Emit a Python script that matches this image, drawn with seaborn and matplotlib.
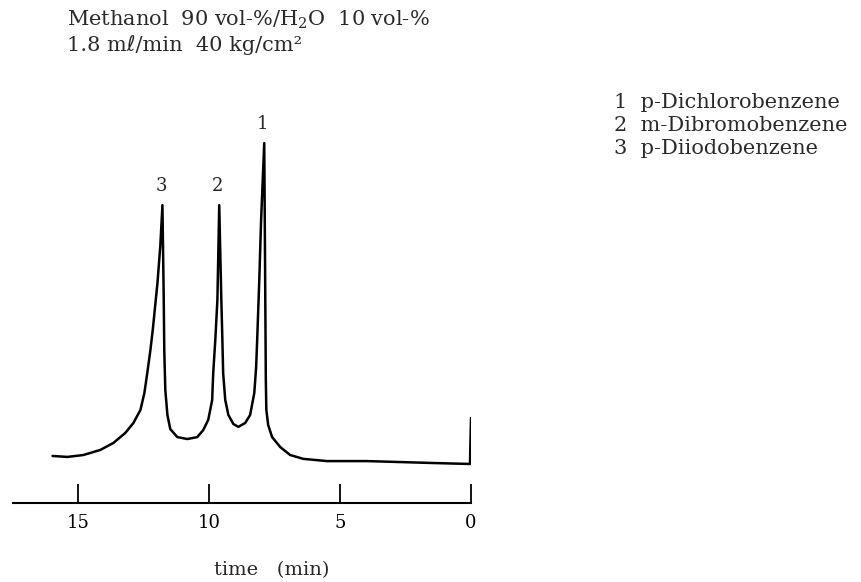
import pandas as pd
import seaborn as sns
import matplotlib.pyplot as plt

# Chromatogram trace (time in min, signal in arbitrary units)
time_min = [15.99, 15.42, 14.81, 14.16, 13.66, 13.21, 12.90, 12.63, 12.48, 12.37,
            12.25, 12.16, 11.98, 11.87, 11.79,
            11.74, 11.72, 11.68, 11.60, 11.49, 11.22, 10.84, 10.46, 10.23, 10.04,
            9.89, 9.85, 9.77, 9.69, 9.62,
            9.54, 9.50, 9.47, 9.39, 9.27, 9.08, 8.89, 8.63, 8.44, 8.28,
            8.21, 8.17, 8.09, 8.02, 7.90,
            7.88, 7.86, 7.84, 7.82, 7.75, 7.60, 7.29, 6.91, 6.41, 5.50,
            3.97, 1.45, 0.04, 0.0]
signal = [2.5, 2.2, 2.8, 4.4, 6.6, 9.7, 12.8, 16.9, 22.2, 28.4,
          35.6, 41.9, 56.6, 68.4, 80.9,
          51.3, 35.6, 23.1, 15.3, 10.9, 8.4, 7.8, 8.4, 10.6, 13.8,
          20.0, 28.4, 38.8, 51.3, 80.9,
          51.3, 38.8, 28.4, 20.0, 15.3, 12.5, 11.6, 12.8, 15.3, 22.2,
          30.3, 38.8, 57.5, 76.3, 100.3,
          76.3, 51.3, 26.3, 16.9, 12.2, 8.4, 5.3, 2.8, 1.6, 0.9,
          0.9, 0.3, 0.0, 14.4]

# Peaks and compound names
peak_ids = ["1", "2", "3"]
peak_times = [7.90, 9.62, 11.79]
compounds = ["p-Dichlorobenzene", "m-Dibromobenzene", "p-Diiodobenzene"]

tick_values = [15, 10, 5, 0]

df = pd.DataFrame({"time": time_min, "signal": signal})

sns.set_style("white")
plt.rcParams["font.family"] = ["DejaVu Serif", "DejaVu Sans"]
plt.rcParams["mathtext.fontset"] = "dejavuserif"

fig = plt.figure(figsize=(8.62, 5.82), dpi=100)
ax = fig.add_axes([13 / 862, 1 - 503 / 582, 458 / 862, 373 / 582])

sns.lineplot(data=df, x="time", y="signal", sort=False, estimator=None,
             color="black", linewidth=1.8, ax=ax)
for l in ax.lines:
    l.set_solid_joinstyle("round")
    l.set_solid_capstyle("round")

ax.set_xlim(17.5, 0)
ax.set_ylim(-12.2, 104.4)

# peak numbers above the apexes
for pid, pt in zip(peak_ids, peak_times):
    i = min(range(len(time_min)), key=lambda k: abs(time_min[k] - pt))
    ax.text(pt + 0.05, signal[i] + 6, pid, ha="center", va="center", fontsize=13)

for s in ["top", "right", "left"]:
    ax.spines[s].set_visible(False)
ax.spines["bottom"].set_linewidth(1.5)
ax.spines["bottom"].set_color("black")
ax.set_yticks([])
ax.set_ylabel("")
ax.set_xticks(tick_values)
ax.set_xticklabels([str(v) for v in tick_values], fontsize=13)
ax.tick_params(axis="x", bottom=True, direction="in", length=14, width=1.3,
               pad=8, colors="black")

ax.set_xlabel("time   (min)", fontsize=14)
ax.xaxis.set_label_coords(0.565, -0.155)

# conditions
fig.text(67 / 862, 1 - 20 / 582, "Methanol  90 vol-%/H$_2$O  10 vol-%",
         fontsize=15, va="center", ha="left", color="#2a2a2a")
fig.text(67 / 862, 1 - 45 / 582, "1.8 m\u2113/min  40 kg/cm\u00b2",
         fontsize=15, va="center", ha="left", color="#2a2a2a")

# compound list
for k, (pid, name) in enumerate(zip(peak_ids, compounds)):
    fig.text(614 / 862, 1 - (103 + 22.5 * k) / 582, f"{pid}  {name}",
             fontsize=15, va="center", ha="left", color="#2a2a2a")

fig.savefig("out.png", dpi=100)
